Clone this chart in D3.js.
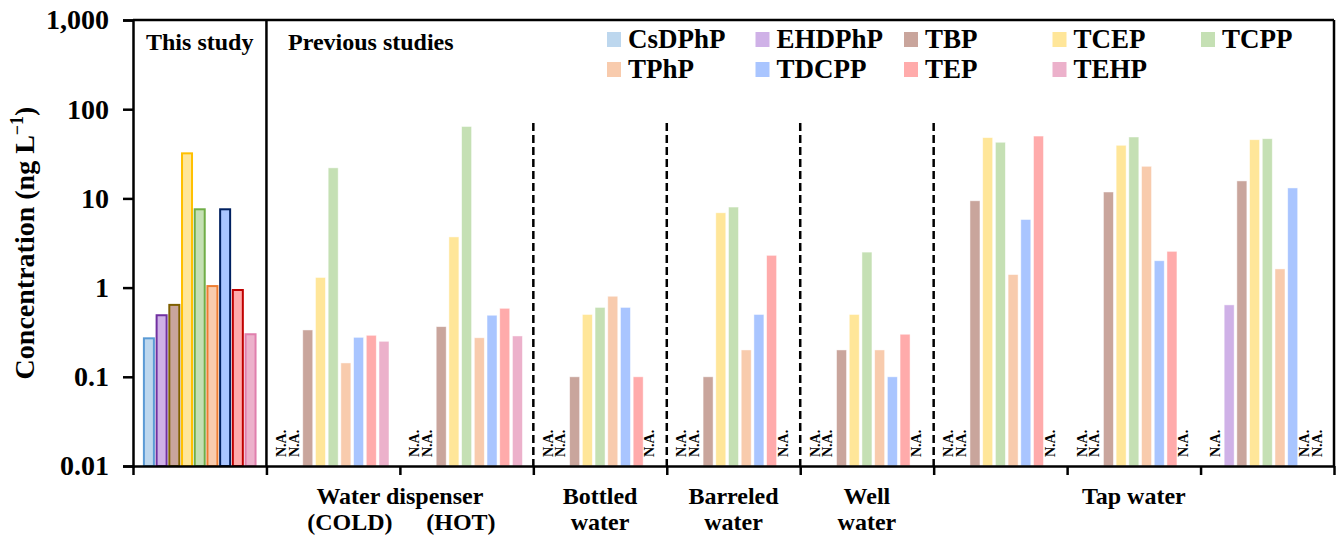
<!DOCTYPE html>
<html>
<head>
<meta charset="utf-8">
<script src="https://cdn.jsdelivr.net/npm/d3@7"></script>
<style>
body { margin: 0; background: #fff; }
text { font-family: "Liberation Serif", "Times New Roman", serif; font-weight: bold; fill: #000; }
</style>
</head>
<body>
<div id="chart"></div>
<script>
// compounds and sample groups
var compounds = ["CsDPhP", "EHDPhP", "TBP", "TCEP", "TCPP", "TPhP", "TDCPP", "TEP", "TEHP"];
var groups = ["this", "cold", "hot", "bottled", "barreled", "well", "tap1", "tap2", "tap3"];

// concentrations (ng/L), null = N.A.
var this_study   = [0.27, 0.49, 0.64, 32, 7.55, 1.04, 7.55, 0.94, 0.30];
var disp_cold    = [null, null, 0.335, 1.3, 22, 0.143, 0.277, 0.292, 0.25];
var disp_hot     = [null, null, 0.365, 3.7, 64, 0.274, 0.49, 0.586, 0.287];
var bottled      = [null, null, 0.1, 0.5, 0.6, 0.8, 0.6, 0.1, null];
var barreled     = [null, null, 0.1, 6.9, 8.0, 0.2, 0.5, 2.3, null];
var well         = [null, null, 0.2, 0.5, 2.5, 0.2, 0.1, 0.3, null];
var tap_1        = [null, null, 9.4, 48, 42.6, 1.4, 5.8, 50, null];
var tap_2        = [null, null, 11.8, 39.4, 48.8, 22.9, 2.0, 2.55, null];
var tap_3        = [null, 0.64, 15.7, 45.5, 46.7, 1.62, 13.1, null, null];
var group_values = [this_study, disp_cold, disp_hot, bottled, barreled, well, tap_1, tap_2, tap_3];

var y_ticks = [0.01, 0.1, 1, 10, 100, 1000];
var y_tick_labels = ["0.01", "0.1", "1", "10", "100", "1,000"];

var fill_colors   = ["#BDD7EE", "#CFB1E7", "#C9A59C", "#FFE699", "#C5E0B4", "#F8CBAD", "#A9C5FF", "#FFABAB", "#ECB1CB"];
var stroke_colors = ["#5B9BD5", "#7030A0", "#7F6000", "#FFC000", "#70AD47", "#ED7D31", "#002060", "#C00000", "#E07FAD"];

var svg_width = 1341, svg_height = 539;
var left = 133, right = 1334, top_y = 20, bottom_y = 466;

var svg = d3.select("#chart").append("svg")
  .attr("width", svg_width)
  .attr("height", svg_height);

var y = d3.scaleLog().domain([0.01, 1000]).range([bottom_y, top_y]);

var x_group = d3.scaleBand().domain(groups).range([left, right]).padding(0);
var x_bar = d3.scaleBand().domain(compounds).range([0, x_group.bandwidth()])
  .paddingInner(0.213).paddingOuter(0.858);

var x_edge = d3.scaleLinear().domain([0, groups.length]).range([left, right]);

// bars
var rows = [];
group_values.forEach(function(vals, gi) {
  vals.forEach(function(v, ci) {
    rows.push({ group: groups[gi], gi: gi, ci: ci, value: v });
  });
});

svg.selectAll(".bar")
  .data(rows.filter(function(d) { return d.value !== null; }))
  .enter()
  .append("rect")
  .attr("class", "bar")
  .attr("x", function(d) { return x_group(d.group) + x_bar(compounds[d.ci]); })
  .attr("y", function(d) { return y(d.value); })
  .attr("width", x_bar.bandwidth())
  .attr("height", function(d) { return y(0.01) - y(d.value); })
  .attr("fill", function(d) { return fill_colors[d.ci]; })
  .attr("stroke", function(d) { return d.gi === 0 ? stroke_colors[d.ci] : "#fff"; })
  .attr("stroke-width", function(d) { return d.gi === 0 ? 2 : 0.8; })
  .attr("stroke-opacity", function(d) { return d.gi === 0 ? 1 : 0.6; });

// N.A. labels
svg.selectAll(".na")
  .data(rows.filter(function(d) { return d.value === null; }))
  .enter()
  .append("text")
  .attr("class", "na")
  .attr("transform", function(d) {
    var cx = x_group(d.group) + x_bar(compounds[d.ci]) + x_bar.bandwidth() / 2 + 3.5;
    return "translate(" + cx + "," + (bottom_y - 9) + ") rotate(-90)";
  })
  .attr("font-size", "14px")
  .text("N.A.");

// frame
var frame = svg.append("g").attr("stroke", "#000").attr("stroke-width", 2.5).attr("fill", "none");
frame.append("line").attr("x1", left).attr("x2", right).attr("y1", top_y).attr("y2", top_y);
frame.append("line").attr("x1", right).attr("x2", right).attr("y1", top_y).attr("y2", bottom_y);
frame.append("line").attr("x1", x_edge(1)).attr("x2", x_edge(1)).attr("y1", top_y).attr("y2", bottom_y);

// dashed separators
svg.selectAll(".sep")
  .data([3, 4, 5, 6])
  .enter()
  .append("line")
  .attr("class", "sep")
  .attr("x1", function(d) { return x_edge(d); })
  .attr("x2", function(d) { return x_edge(d); })
  .attr("y1", 123)
  .attr("y2", bottom_y)
  .attr("stroke", "#000")
  .attr("stroke-width", 2.5)
  .attr("stroke-dasharray", "8,4");

// y axis
var y_axis = svg.append("g")
  .attr("transform", "translate(" + left + ",0)")
  .call(d3.axisLeft(y).tickValues(y_ticks).tickSize(10).tickPadding(14)
    .tickFormat(function(d, i) { return y_tick_labels[i]; }));
y_axis.selectAll("path, line").attr("stroke", "#000").attr("stroke-width", 2.5);
y_axis.selectAll("text").attr("font-size", "28px").attr("font-family", null).attr("fill", "#000");

// x axis (group boundaries)
var x_axis = svg.append("g")
  .attr("transform", "translate(0," + bottom_y + ")")
  .call(d3.axisBottom(x_edge).tickValues(d3.range(groups.length + 1)).tickSize(9).tickSizeOuter(0).tickFormat(""));
x_axis.selectAll("path, line").attr("stroke", "#000").attr("stroke-width", 2.5);

// y title
svg.append("text")
  .attr("transform", "translate(34," + ((top_y + bottom_y) / 2) + ") rotate(-90)")
  .attr("text-anchor", "middle")
  .attr("font-size", "28px")
  .html('Concentration (ng L<tspan font-size="18px" dy="-11">\u22121</tspan><tspan dy="11">)</tspan>');

// panel titles
svg.append("text")
  .attr("x", (x_edge(0) + x_edge(1)) / 2)
  .attr("y", 50)
  .attr("text-anchor", "middle")
  .attr("font-size", "24px")
  .text("This study");
svg.append("text")
  .attr("x", 288)
  .attr("y", 50)
  .attr("font-size", "24px")
  .text("Previous studies");

// legend
var legend = svg.selectAll(".legend")
  .data(compounds)
  .enter()
  .append("g")
  .attr("class", "legend")
  .attr("transform", function(d, i) {
    return "translate(" + (607 + (i % 5) * 148.5) + "," + (32 + Math.floor(i / 5) * 30) + ")";
  });
legend.append("rect")
  .attr("width", 14)
  .attr("height", 15)
  .attr("fill", function(d, i) { return fill_colors[i]; });
legend.append("text")
  .attr("x", 21)
  .attr("y", 16)
  .attr("font-size", "27px")
  .text(function(d) { return d; });

// category labels
var cat_labels = [
  { text: "Water dispenser", x: x_edge(2), y: 504 },
  { text: "(COLD)", x: x_edge(2) - 50, y: 530 },
  { text: "(HOT)", x: x_edge(2) + 61, y: 530 },
  { text: "Bottled", x: (x_edge(3) + x_edge(4)) / 2, y: 504 },
  { text: "water", x: (x_edge(3) + x_edge(4)) / 2, y: 530 },
  { text: "Barreled", x: (x_edge(4) + x_edge(5)) / 2, y: 504 },
  { text: "water", x: (x_edge(4) + x_edge(5)) / 2, y: 530 },
  { text: "Well", x: (x_edge(5) + x_edge(6)) / 2, y: 504 },
  { text: "water", x: (x_edge(5) + x_edge(6)) / 2, y: 530 },
  { text: "Tap water", x: (x_edge(7) + x_edge(8)) / 2, y: 504 }
];
svg.selectAll(".cat")
  .data(cat_labels)
  .enter()
  .append("text")
  .attr("class", "cat")
  .attr("x", function(d) { return d.x; })
  .attr("y", function(d) { return d.y; })
  .attr("text-anchor", "middle")
  .attr("font-size", "24px")
  .text(function(d) { return d.text; });
</script>
</body>
</html>
